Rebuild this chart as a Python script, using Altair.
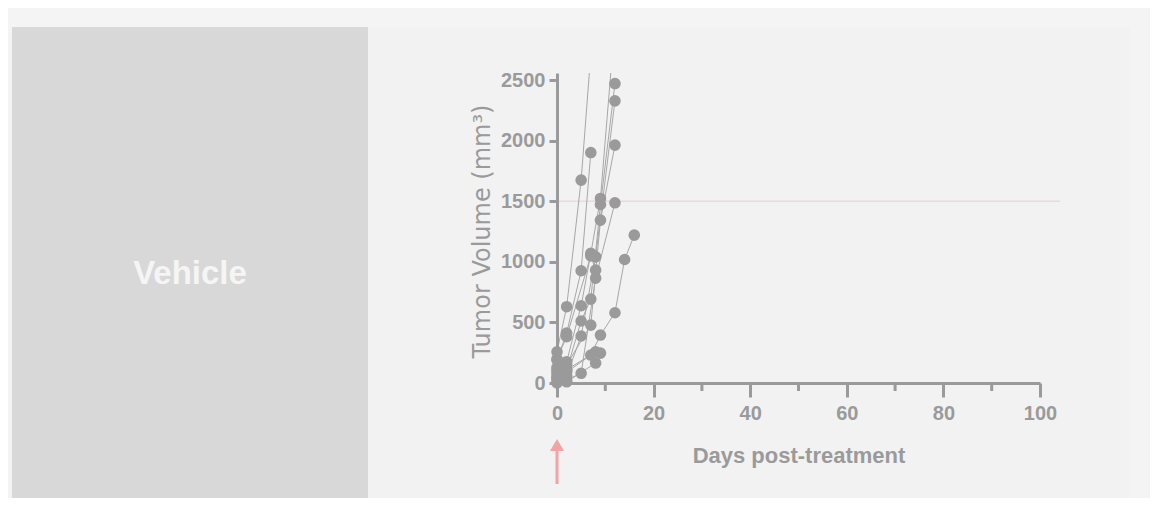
import altair as alt
import pandas as pd

# ---- data ----
group_label = "Vehicle"

mouse_A_days = [0, 2, 5, 7]
mouse_A_vol = [258, 630, 1675, 2720]
mouse_B_days = [0, 2, 5, 7]
mouse_B_vol = [190, 412, 927, 1903]
mouse_C_days = [0, 2, 5, 7, 9, 12]
mouse_C_vol = [93, 176, 638, 1070, 1524, 2980]
mouse_D_days = [0, 2, 5, 7, 9, 12]
mouse_D_vol = [39, 107, 512, 693, 1474, 2473]
mouse_E_days = [0, 2, 5, 8, 12]
mouse_E_vol = [15, 60, 388, 1042, 2330]
mouse_F_days = [0, 2, 7, 9, 12]
mouse_F_vol = [130, 150, 478, 1345, 1964]
mouse_G_days = [0, 2, 5, 8, 12]
mouse_G_vol = [0, 25, 80, 866, 1488]
mouse_H_days = [0, 2, 7, 9, 12, 14, 16]
mouse_H_vol = [70, 110, 231, 396, 580, 1020, 1221]
mouse_I_days = [0, 2, 7, 8]
mouse_I_vol = [200, 382, 1050, 932]
mouse_J_days = [0, 2, 8, 9]
mouse_J_vol = [45, 10, 165, 247]
mouse_K_days = [0, 2, 8]
mouse_K_vol = [110, 90, 258]

x_ticks = [0, 20, 40, 60, 80, 100]
x_minor_ticks = [10, 30, 50, 70, 90]
y_ticks = [0, 500, 1000, 1500, 2000, 2500]
threshold_volume = 1500
treatment_day = 0

mice = {
    "A": (mouse_A_days, mouse_A_vol), "B": (mouse_B_days, mouse_B_vol),
    "C": (mouse_C_days, mouse_C_vol), "D": (mouse_D_days, mouse_D_vol),
    "E": (mouse_E_days, mouse_E_vol), "F": (mouse_F_days, mouse_F_vol),
    "G": (mouse_G_days, mouse_G_vol), "H": (mouse_H_days, mouse_H_vol),
    "I": (mouse_I_days, mouse_I_vol), "J": (mouse_J_days, mouse_J_vol),
    "K": (mouse_K_days, mouse_K_vol),
}
rows = []
for m, (ds, vs) in mice.items():
    for d, v in zip(ds, vs):
        rows.append({"mouse": m, "day": d, "vol": v})
df = pd.DataFrame(rows)

# ---- layout ----
W, H = 483, 310
OX, OY = 557, 73          # page position of plot origin
Y_MAX = 2560
GRAY = "#9a9a9a"
FONT = "Liberation Sans"

xs = alt.Scale(domain=[0, 100], nice=False)
ys = alt.Scale(domain=[0, Y_MAX], nice=False)
one = pd.DataFrame({"a": [0]})

x_axis = alt.Axis(
    values=x_ticks, format="d", title="Days post-treatment", titleX=W / 2, titleY=79,
    titleBaseline="alphabetic", titleAlign="center",
    titleFont=FONT, titleFontSize=22, titleFontWeight="bold", titleColor=GRAY,
    labelFont=FONT, labelFontSize=20, labelFontWeight="bold", labelColor=GRAY,
    labelPadding=6, tickSize=14, tickWidth=3, tickColor=GRAY,
    domainWidth=3, domainColor=GRAY, grid=False, labelFlush=False, zindex=1)
y_axis = alt.Axis(
    values=y_ticks, format="d", title="Tumor Volume (mm³)", titleX=-68, titleY=158,
    titleAngle=270, titleBaseline="alphabetic", titleAlign="center",
    titleFont="DejaVu Sans", titleFontSize=24, titleFontWeight="normal",
    titleColor=GRAY,
    labelFont=FONT, labelFontSize=20, labelFontWeight="bold", labelColor=GRAY,
    labelPadding=4, tickSize=8, tickWidth=3, tickColor=GRAY,
    domainWidth=3, domainColor=GRAY, grid=False, labelFlush=False, zindex=1)

panel_bg = alt.Chart(one).mark_rect(color="#f2f2f2").encode(
    x=alt.value(12 - OX), x2=alt.value(1130 - OX),
    y=alt.value(27 - OY), y2=alt.value(520 - OY))

vehicle_box = alt.Chart(one).mark_rect(color="#d8d8d8").encode(
    x=alt.value(12 - OX), x2=alt.value(368 - OX),
    y=alt.value(27 - OY), y2=alt.value(520 - OY))

vehicle_text = alt.Chart(one).mark_text(
    text=group_label, font=FONT, fontSize=33, fontWeight="bold",
    color="#f5f5f5", align="center", baseline="middle").encode(
    x=alt.value(190 - OX), y=alt.value(274 - OY))

thresh = alt.Chart(one).mark_rule(color="#f1d6d6", strokeWidth=1.5).encode(
    y=alt.datum(threshold_volume, scale=ys),
    x=alt.value(0), x2=alt.value(1060 - OX))

lines = alt.Chart(df).mark_line(color="#a6a6a6", strokeWidth=1, clip=True).encode(
    x=alt.X("day:Q", scale=xs, axis=x_axis),
    y=alt.Y("vol:Q", scale=ys, axis=y_axis),
    detail="mouse:N", order="day:Q")

points = alt.Chart(df).transform_filter(f"datum.vol <= {Y_MAX}").mark_circle(
    size=135, color=GRAY, opacity=1).encode(
    x=alt.X("day:Q", scale=xs, axis=x_axis),
    y=alt.Y("vol:Q", scale=ys, axis=y_axis))

minor = alt.Chart(pd.DataFrame({"day": x_minor_ticks})).mark_rule(
    color=GRAY, strokeWidth=3).encode(
    x=alt.X("day:Q", scale=xs, axis=x_axis),
    y=alt.value(H), y2=alt.value(H + 8))

arrow_shaft = alt.Chart(one).mark_rule(color="#f4a3a3", strokeWidth=3).encode(
    x=alt.datum(treatment_day, scale=xs), y=alt.value(447 - OY), y2=alt.value(484 - OY))

arrow_head = alt.Chart(one).mark_point(
    shape="triangle-up", filled=True, color="#f4a3a3", opacity=1, size=200).encode(
    x=alt.datum(treatment_day, scale=xs), y=alt.value(445 - OY))

chart = alt.layer(
    panel_bg, vehicle_box, vehicle_text, thresh, minor, lines, points,
    arrow_shaft, arrow_head
).properties(
    width=W, height=H,
    autosize=alt.AutoSizeParams(type="none"),
    padding={"left": OX - 8, "top": OY - 8, "right": 1150 - OX - W, "bottom": 498 - OY - H},
    background="#f4f4f4",
).configure_view(strokeOpacity=0)

chart.save("out.html", embed_options={"renderer": "svg", "actions": False})
